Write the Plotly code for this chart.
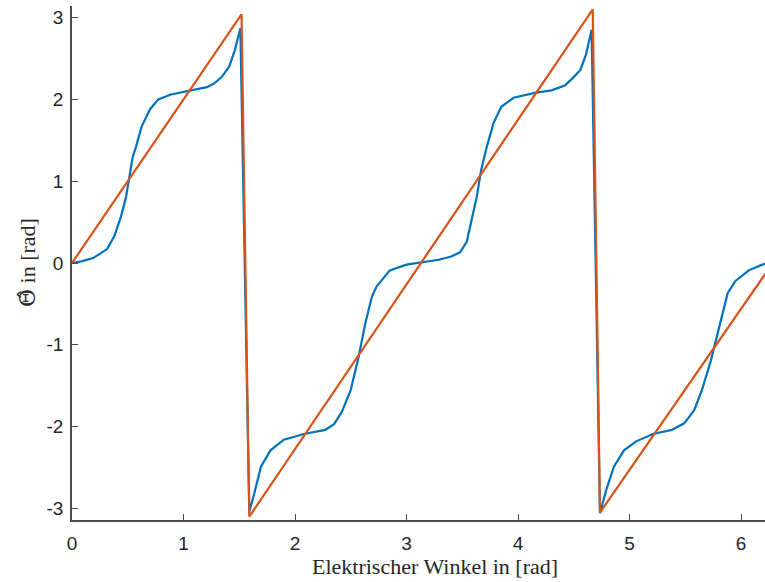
import plotly.graph_objects as go

# Estimated (blue) angle
est_x = [0.0, 0.083, 0.19, 0.315, 0.38, 0.44, 0.485, 0.515, 0.545, 0.574, 0.625, 0.70, 0.774, 0.887,
         1.036, 1.21, 1.27, 1.34, 1.41, 1.46, 1.51,
         1.59, 1.634, 1.694, 1.78, 1.90, 2.08, 2.27, 2.35, 2.42, 2.50, 2.57, 2.63, 2.69, 2.73, 2.85,
         3.00, 3.15, 3.29, 3.40, 3.48, 3.54, 3.58, 3.63, 3.67, 3.72, 3.78, 3.85, 3.96, 4.15, 4.30,
         4.42, 4.49, 4.56, 4.61, 4.66,
         4.735, 4.79, 4.86, 4.95, 5.06, 5.21, 5.38, 5.49, 5.58, 5.65, 5.73, 5.77, 5.82, 5.88, 5.95,
         6.07, 6.19, 6.25]
est_y = [0.0, 0.02, 0.06, 0.17, 0.33, 0.57, 0.81, 1.06, 1.30, 1.42, 1.67, 1.88, 2.00, 2.06,
         2.10, 2.15, 2.19, 2.27, 2.40, 2.60, 2.87,
         -3.04, -2.82, -2.49, -2.29, -2.16, -2.09, -2.04, -1.97, -1.82, -1.55, -1.15, -0.74, -0.41, -0.29, -0.09,
         -0.02, 0.01, 0.04, 0.08, 0.13, 0.26, 0.51, 0.81, 1.14, 1.42, 1.71, 1.91, 2.02, 2.08, 2.11,
         2.17, 2.26, 2.36, 2.55, 2.85,
         -3.06, -2.78, -2.49, -2.29, -2.18, -2.09, -2.04, -1.96, -1.80, -1.55, -1.19, -0.98, -0.70, -0.37, -0.22,
         -0.09, -0.02, 0.0]

# Reference (orange) angle: vertices of the sawtooth
ref_x = [0.0, 1.52, 1.59, 4.67, 4.735, 6.25]
ref_y = [0.0, 3.04, -3.10, 3.10, -3.05, -0.07]

xtick_vals = [0, 1, 2, 3, 4, 5, 6]
xtick_text = ["0", "1", "2", "3", "4", "5", "6"]
ytick_vals = [-3, -2, -1, 0, 1, 2, 3]
ytick_text = ["-3", "-2", "-1", "0", "1", "2", "3"]

x_title = "Elektrischer Winkel in [rad]"
y_title = "<span style=\"font-family:'DejaVu Serif'\">\u0398\u0302</span> in [rad]"

fig = go.Figure()
fig.add_trace(go.Scatter(x=est_x, y=est_y, mode="lines",
                         line=dict(color="#0072BD", width=2.2), showlegend=False))
fig.add_trace(go.Scatter(x=ref_x, y=ref_y, mode="lines",
                         line=dict(color="#D95319", width=2.2), showlegend=False))

axis_common = dict(showgrid=False, zeroline=False, showline=True, linecolor="#4d4d4d",
                   linewidth=1.5, ticks="inside", ticklen=6, tickwidth=1.2, tickcolor="#4d4d4d",
                   tickfont=dict(family="Liberation Sans, Arial", size=19, color="#262626"),
                   mirror=False)

fig.update_xaxes(range=[0, 6.215], tickvals=xtick_vals, ticktext=xtick_text,
                 ticklabelstandoff=5, **axis_common)
fig.update_yaxes(range=[-3.14159, 3.14159], tickvals=ytick_vals, ticktext=ytick_text,
                 ticklabelstandoff=3, **axis_common)

title_font = dict(family="Liberation Serif, Times New Roman", size=22, color="#262626")
fig.add_annotation(text=x_title, xref="paper", yref="paper", x=(435 - 72) / 693, y=-(566 - 520) / 514,
                   xanchor="center", yanchor="middle", showarrow=False, font=title_font)
fig.add_annotation(text=y_title, xref="paper", yref="paper", x=-(72 - 27) / 693, y=(520 - 263) / 514,
                   xanchor="center", yanchor="middle", textangle=-90, showarrow=False, font=title_font)

fig.update_layout(width=765, height=582, margin=dict(l=72, r=0, t=6, b=62),
                  plot_bgcolor="white", paper_bgcolor="white")

fig.write_html("out.html")
